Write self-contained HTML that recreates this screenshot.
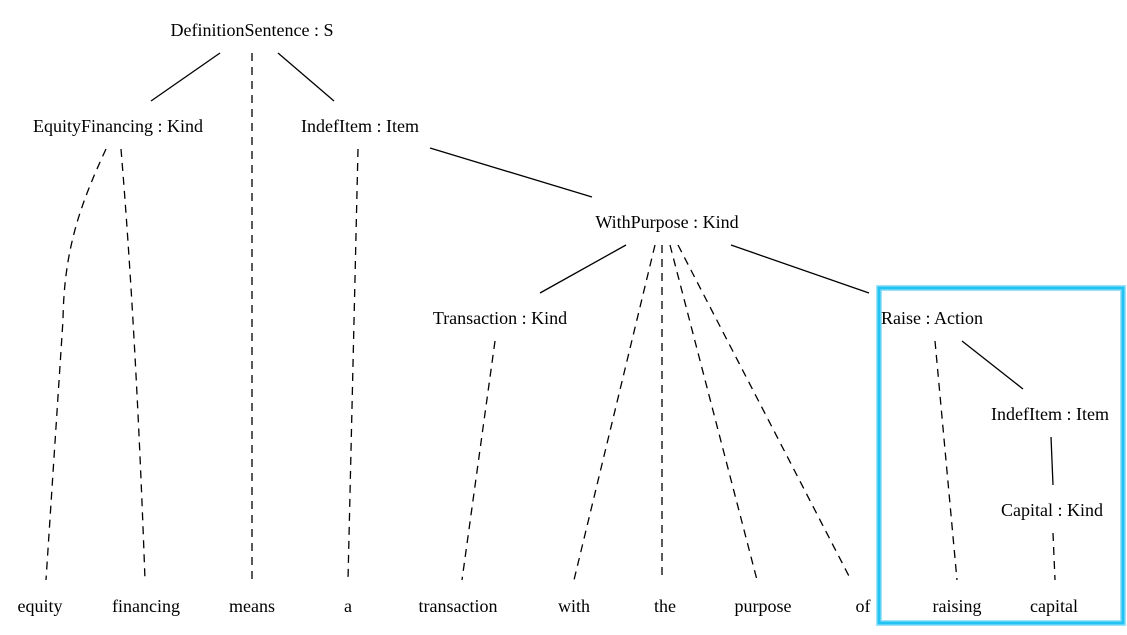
<!DOCTYPE html>
<html><head><meta charset="utf-8"><style>
html,body{margin:0;padding:0;background:#fff;}
svg{display:block;}
text{font-family:"Liberation Serif",serif;font-size:18px;fill:#000;text-anchor:middle;}
</style></head><body>
<svg width="1127" height="635" viewBox="0 0 1127 635">
<rect x="879" y="288" width="244" height="335" fill="none" stroke="#9be3f8" stroke-width="6"/>
<rect x="879" y="288" width="244" height="335" fill="none" stroke="#22c3f2" stroke-width="3"/>
<g stroke="#000" stroke-width="1.3" fill="none">
<line x1="220" y1="53" x2="151" y2="101"/>
<line x1="278" y1="53" x2="334" y2="101"/>
<line x1="430" y1="148" x2="592" y2="197"/>
<line x1="626" y1="245" x2="540" y2="293"/>
<line x1="731" y1="245" x2="869" y2="293"/>
<line x1="962" y1="341" x2="1023" y2="389"/>
<line x1="1051" y1="437" x2="1053" y2="485"/>
</g>
<g stroke="#000" stroke-width="1.3" fill="none" stroke-dasharray="8,6">
<line x1="252" y1="53" x2="252" y2="580"/>
<path d="M106 149 C80 205 64 250 63 320 L46 580"/>
<path d="M121 149 Q136 330 145 580"/>
<line x1="358" y1="149" x2="348" y2="580"/>
<line x1="495" y1="341" x2="462" y2="580"/>
<line x1="655" y1="245" x2="574" y2="580"/>
<line x1="662" y1="245" x2="662" y2="580"/>
<line x1="670" y1="245" x2="757" y2="580"/>
<line x1="678" y1="245" x2="851" y2="580"/>
<line x1="935" y1="341" x2="957" y2="580"/>
<line x1="1053" y1="533" x2="1055" y2="580"/>
</g>
<g>
<text x="252" y="36">DefinitionSentence : S</text>
<text x="118" y="132">EquityFinancing : Kind</text>
<text x="360" y="132">IndefItem : Item</text>
<text x="667" y="228">WithPurpose : Kind</text>
<text x="500" y="324">Transaction : Kind</text>
<text x="932" y="324">Raise : Action</text>
<text x="1050" y="420">IndefItem : Item</text>
<text x="1052" y="516">Capital : Kind</text>
</g>
<g>
<text x="40" y="612">equity</text>
<text x="146" y="612">financing</text>
<text x="252" y="612">means</text>
<text x="348" y="612">a</text>
<text x="458" y="612">transaction</text>
<text x="574" y="612">with</text>
<text x="665" y="612">the</text>
<text x="763" y="612">purpose</text>
<text x="863" y="612">of</text>
<text x="957" y="612">raising</text>
<text x="1054" y="612">capital</text>
</g>
</svg>
</body></html>
